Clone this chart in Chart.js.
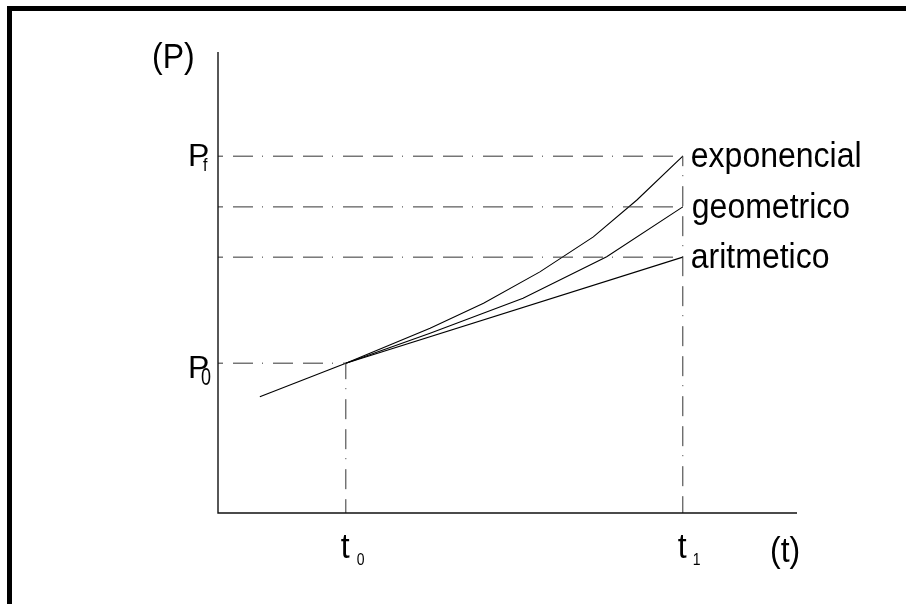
<!DOCTYPE html>
<html lang="es">
<head>
    <meta charset="UTF-8">
    <title>Crecimiento de poblacion</title>
    <style>
        body {
    margin: 0;
    padding: 0;
    background-color: #fff;
}

.wrap {
    width: 906px;
    height: 604px;
}
    </style>
</head>
<body>
    <div class="wrap">
        <canvas id="popChart" width="906" height="604"></canvas>
    </div>
    <script src="https://cdn.jsdelivr.net/npm/chart.js"></script>
    <script>
// tiempos y poblaciones de referencia
const t0 = 22, t1 = 80;
const P0 = 32.5, Pa = 55.5, Pg = 66.4, Pf = 77.4;

// curvas de proyeccion
const tExp = [22, 36.5, 45.7, 55.4, 64.6, 72.1, 80];
const pExp = [32.5, 40.1, 45.5, 52.3, 59.9, 67.9, 77.4];
const tGeo = [22, 36.5, 52.5, 66.9, 80];
const pGeo = [32.5, 39.0, 46.6, 55.6, 66.4];
const tArit = [22, 80];
const pArit = [32.5, 55.5];

// tramo anterior a t0
const tPrev = [7.2, 22];
const pPrev = [25.2, 32.5];

const toPts = (xs, ys) => xs.map((x, i) => ({ x: x, y: ys[i] }));

const solid = (xs, ys) => ({
    data: toPts(xs, ys),
    borderColor: '#000',
    borderWidth: 1.1
});

// linea de trazo y punto
const dashDot = (pts, offset) => ({
    data: pts,
    borderColor: '#333',
    borderWidth: 1,
    borderDash: [20, 10, 20, 9, 1, 10],
    borderDashOffset: offset
});

const FONT = '"Liberation Sans", Arial, sans-serif';

const frame = {
    id: 'frame',
    beforeDraw(chart) {
        const ctx = chart.ctx;
        ctx.save();
        ctx.fillStyle = '#fff';
        ctx.fillRect(0, 0, chart.width, chart.height);
        ctx.fillStyle = '#000';
        ctx.fillRect(7, 6, chart.width - 7, 5);
        ctx.fillRect(7, 6, 5, chart.height - 6);
        ctx.restore();
    },
    afterDraw(chart) {
        const ctx = chart.ctx;
        const a = chart.chartArea;
        const xs = chart.scales.x, ys = chart.scales.y;
        ctx.save();
        // ejes
        ctx.strokeStyle = '#111';
        ctx.lineWidth = 1.4;
        ctx.beginPath();
        ctx.moveTo(a.left, a.top);
        ctx.lineTo(a.left, a.bottom);
        ctx.lineTo(a.right - 2, a.bottom);
        ctx.stroke();

        ctx.fillStyle = '#000';
        ctx.textBaseline = 'alphabetic';
        // texto algo alargado en vertical
        const txt = (s, x, y, size, sy) => {
            ctx.save();
            ctx.translate(x, y);
            ctx.scale(1, sy || 1.12);
            ctx.font = size + 'px ' + FONT;
            ctx.fillText(s, 0, 0);
            ctx.restore();
        };

        txt('(P)', 152, 68, 32);
        txt('(t)', 770, 562, 32);

        const yPf = ys.getPixelForValue(Pf), yP0 = ys.getPixelForValue(P0);
        txt('P', 188, yPf + 10, 32, 1);
        txt('f', 203, yPf + 15, 16);
        txt('P', 188, yP0 + 15, 32, 1);
        txt('0', 201, yP0 + 22, 18, 1.3);

        const xT0 = xs.getPixelForValue(t0), xT1 = xs.getPixelForValue(t1);
        txt('t', xT0 - 5, 558, 32);
        txt('0', xT0 + 11, 565, 14);
        txt('t', xT1 - 5, 558, 32);
        txt('1', xT1 + 10, 565, 14);

        txt('exponencial', xT1 + 8, yPf + 11, 32);
        txt('geometrico', xT1 + 9, ys.getPixelForValue(Pg) + 11, 32);
        txt('aritmetico', xT1 + 8, ys.getPixelForValue(Pa) + 11, 32);
        ctx.restore();
    }
};

const ctx = document.getElementById('popChart').getContext('2d');
const popChart = new Chart(ctx, {
    type: 'line',
    data: {
        datasets: [
            dashDot([{ x: 0, y: Pf }, { x: t1, y: Pf }], 15),
            dashDot([{ x: 0, y: Pg }, { x: t1, y: Pg }], 15),
            dashDot([{ x: 0, y: Pa }, { x: t1, y: Pa }], 15),
            dashDot([{ x: 0, y: P0 }, { x: t0, y: P0 }], 15),
            dashDot([{ x: t1, y: Pf }, { x: t1, y: 0 }], 40),
            dashDot([{ x: t0, y: P0 }, { x: t0, y: 0 }], 34),
            solid(tExp, pExp),
            solid(tGeo, pGeo),
            solid(tArit, pArit),
            solid(tPrev, pPrev)
        ]
    },
    options: {
        responsive: false,
        animation: false,
        layout: {
            padding: { left: 218, right: 107, top: 52, bottom: 91 }
        },
        elements: {
            point: { radius: 0 },
            line: { tension: 0 }
        },
        plugins: {
            legend: { display: false },
            tooltip: { enabled: false }
        },
        scales: {
            x: { type: 'linear', min: 0, max: 100, display: false },
            y: { type: 'linear', min: 0, max: 100, display: false }
        }
    },
    plugins: [frame]
});
    </script>
</body>
</html>
